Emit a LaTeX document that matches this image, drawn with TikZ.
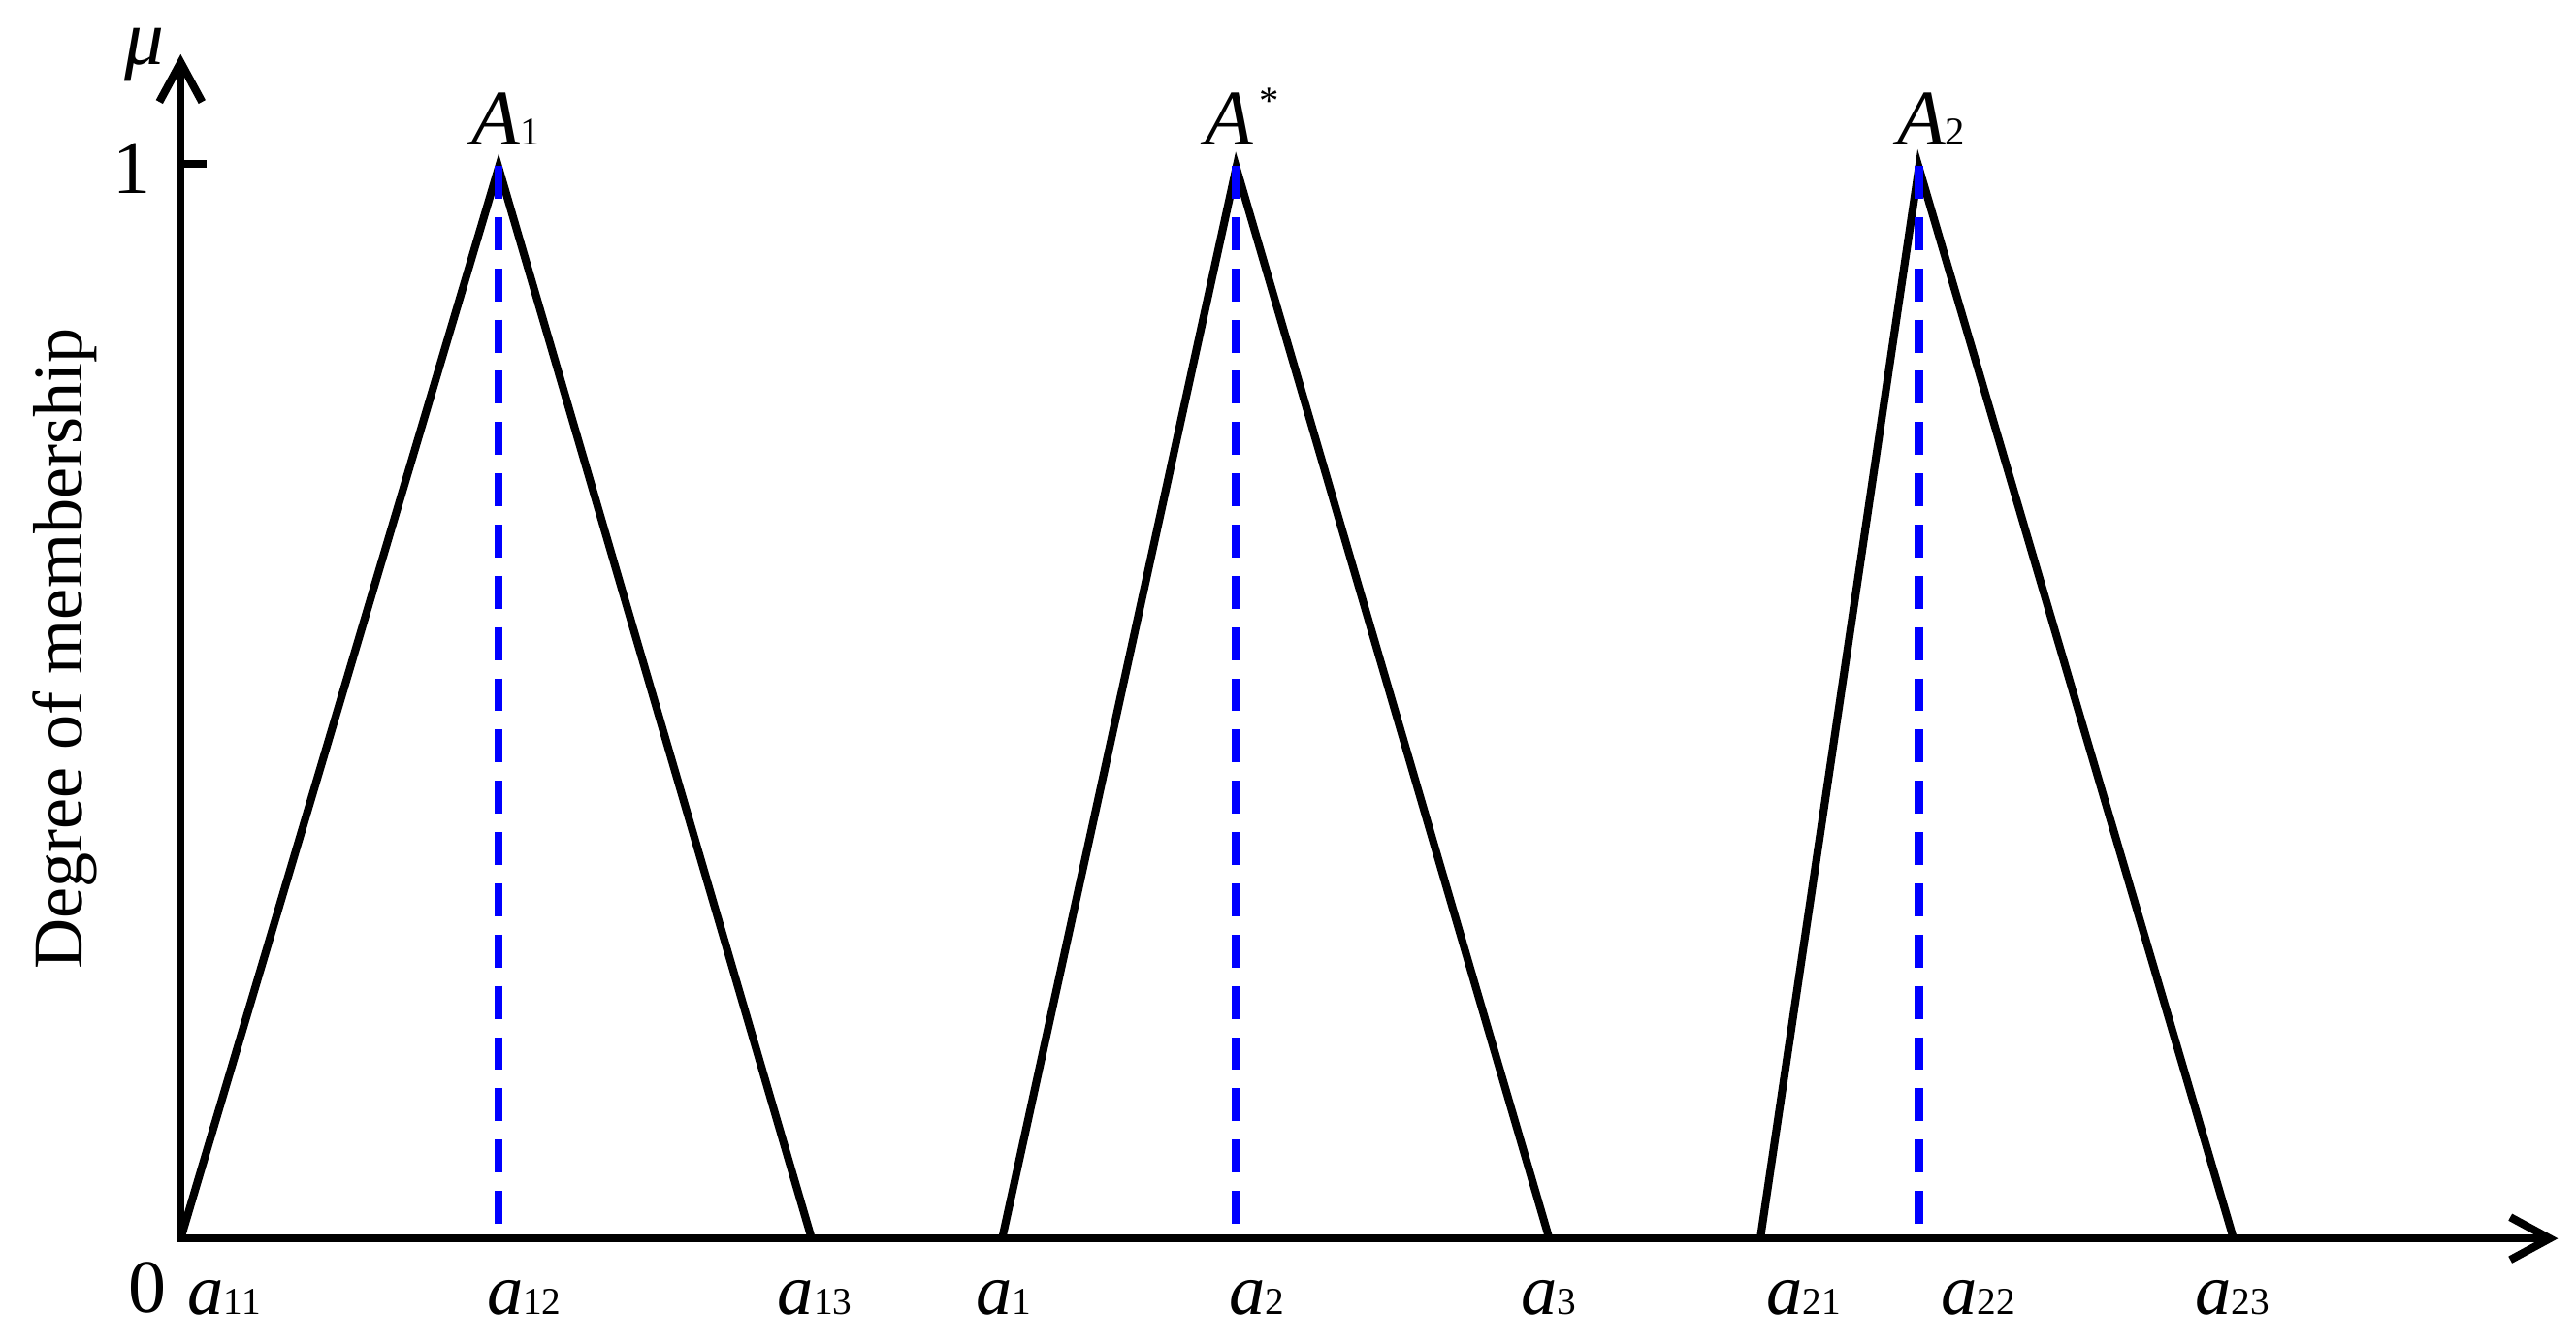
\documentclass[tikz,border=0pt]{standalone}
\usepackage{fontspec}
\setmainfont{Liberation Serif}
\usetikzlibrary{arrows.meta}
\newcommand{\fzlab}[2]{{\fontsize{22}{22}\selectfont\itshape #1}{\fontsize{11.6}{12}\selectfont #2}}
\newcommand{\fzpeak}[2]{{\fontsize{24}{24}\selectfont\itshape #1}{\fontsize{12}{12}\selectfont #2}}
\begin{document}
\begin{tikzpicture}[x=0.5pt,y=-0.5pt,
  axisline/.style={line width=2.4pt, line join=miter,
    {Straight Barb[length=12pt,width=13pt]}-{Straight Barb[length=12pt,width=13pt]}},
  tri/.style={line width=2.4pt, line join=miter},
  bdash/.style={line width=2.5pt, blue, dash pattern=on 10pt off 5.6pt},
  lab/.style={inner sep=0pt, anchor=base},
  num/.style={inner sep=0pt, anchor=base, font=\fontsize{23}{23}\selectfont}]
\useasboundingbox (0,0) rectangle (1568,818);
% axes
\coordinate (O) at (110,754);
\coordinate (ytip) at (110,33);
\coordinate (xtip) at (1557,754);
\coordinate (tick) at (110,100);
\coordinate (tickend) at (126,100);
\draw[axisline] (ytip) -- (O) -- (xtip);
\draw[line width=2.4pt] (tick) -- (tickend);
% triangles
\coordinate (p1) at (303.5,102);
\coordinate (p2) at (752.5,102);
\coordinate (p3) at (1168,102);
\coordinate (b13) at (494,754);
\coordinate (b1) at (610,754);
\coordinate (b3) at (943,754);
\coordinate (b21) at (1071.5,754);
\coordinate (b23) at (1359.5,754);
\draw[tri] (O) -- (p1) -- (b13);
\draw[tri] (b1) -- (p2) -- (b3);
\draw[tri] (b21) -- (p3) -- (b23);
% dashed verticals
\coordinate (d1) at (303.5,746);
\coordinate (d2) at (752.5,746);
\coordinate (d3) at (1168,746);
\draw[bdash] (303.5,101) -- (d1);
\draw[bdash] (752.5,101) -- (d2);
\draw[bdash] (1168,101) -- (d3);
% axis labels
\node[lab, font=\fontsize{24}{24}\selectfont\itshape] (mu) at (88,39) {μ};
\node[num] (one) at (80,118) {1};
\node[num] (zero) at (90,799) {0};
\node[rotate=90, anchor=base, inner sep=0pt, font=\fontsize{21.3}{22}\selectfont] (ylab) at (50,395) {Degree of membership};
% peak labels
\node[lab] (A1) at (308,88.5) {\fzpeak{A}{1}};
\node[lab] (Astar) at (756,88.5) {{\fontsize{24}{24}\selectfont\itshape A}\,\raisebox{9.5pt}{\fontsize{12}{12}\selectfont *}};
\node[lab] (A2) at (1175.5,88.5) {\fzpeak{A}{2}};
% x labels
\node[lab] (a11) at (136.5,800) {\fzlab{a}{11}};
\node[lab] (a12) at (319,800) {\fzlab{a}{12}};
\node[lab] (a13) at (496,800) {\fzlab{a}{13}};
\node[lab] (a1) at (611,800) {\fzlab{a}{1}};
\node[lab] (a2) at (765,800) {\fzlab{a}{2}};
\node[lab] (a3) at (942.5,800) {\fzlab{a}{3}};
\node[lab] (a21) at (1098,800) {\fzlab{a}{21}};
\node[lab] (a22) at (1204,800) {\fzlab{a}{22}};
\node[lab] (a23) at (1359,800) {\fzlab{a}{23}};
\end{tikzpicture}
\end{document}
